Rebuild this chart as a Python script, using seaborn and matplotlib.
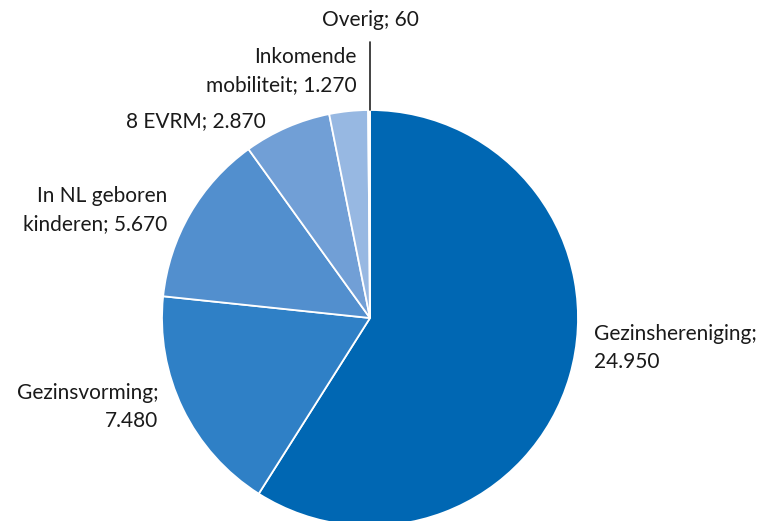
import numpy as np
import seaborn as sns
import matplotlib.pyplot as plt

# data
categorieen = ['Gezinshereniging', 'Gezinsvorming', 'In NL geboren\nkinderen', '8 EVRM',
               'Inkomende\nmobiliteit', 'Overig']
aantallen = [24950, 7480, 5670, 2870, 1270, 60]
kleuren = ['#0067B3', '#2F80C6', '#528FCE', '#719FD6', '#97B8E2', '#C2D5EF']

sns.set_theme(style='white')
plt.rcParams['font.family'] = ['Lato', 'DejaVu Sans']


def fmt(v):
    return f'{v:,}'.replace(',', '.')


fig = plt.figure(figsize=(7.62, 5.21), dpi=100)
ax = fig.add_axes([0, 0, 1, 1])

cx, cy, r = 370, 521 - 318, 208
wedges, _ = ax.pie(aantallen, colors=kleuren, startangle=90, counterclock=False,
                   center=(cx, cy), radius=r, frame=True,
                   wedgeprops=dict(edgecolor='white', linewidth=1.3))
ax.set_xlim(0, 762)
ax.set_ylim(0, 521)
ax.set_aspect('equal')
ax.axis('off')

# label text: "naam; waarde"
teksten = []
for naam, v in zip(categorieen, aantallen):
    if naam in ('Gezinshereniging', 'Gezinsvorming'):
        teksten.append(naam + ';\n' + fmt(v))
    else:
        teksten.append(naam + '; ' + fmt(v))

# positions (pixels, y from top) and alignment
posities = [(594, 348, 'left'), (158, 407, 'right'), (167, 210, 'right'),
            (266, 121, 'right'), (357, 71, 'right'), (370, 20, 'center')]
for t, (x, y, ha) in zip(teksten, posities):
    ax.text(x, 521 - y, t, ha=ha, va='center', fontsize=15, color='#1a1a1a',
            multialignment=ha, linespacing=1.5)

# leader line for Overig
ax.plot([370, 370], [521 - 42, 521 - 110], color='#222222', lw=1.2)

fig.savefig('out.png', dpi=100)
